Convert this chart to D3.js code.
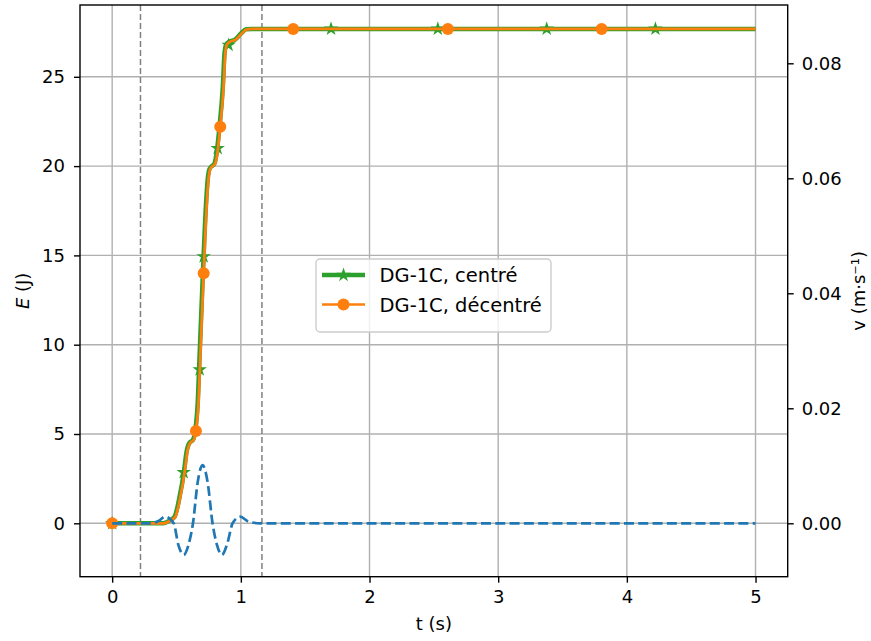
<!DOCTYPE html>
<html>
<head>
<meta charset="utf-8">
<script src="https://cdn.jsdelivr.net/npm/d3@7"></script>
<style>
  html, body { margin: 0; padding: 0; background: #fff; }
  svg { display: block; }
  text { font-family: "DejaVu Sans", sans-serif; }
</style>
</head>
<body>
<svg id="chart" width="871" height="641"></svg>
<script>
// ---------- data ----------
const xTicks = [0, 1, 2, 3, 4, 5];
const yLeftTicks = [0, 5, 10, 15, 20, 25];
const yRightTicks = [0.00, 0.02, 0.04, 0.06, 0.08];

// DG-1C, centré (green)
const centreT = [0, 0.394, 0.446, 0.485, 0.519, 0.563, 0.576, 0.601, 0.627, 0.645, 0.666, 0.679, 0.705, 0.731, 0.743, 0.757, 0.770, 0.795, 0.813, 0.834, 0.860, 0.873, 0.886, 0.912, 0.951, 1.003, 1.041, 1.084, 5];
const centreE = [0, 0, 0.15, 0.37, 1.3, 3.17, 3.92, 4.51, 4.66, 5.17, 6.9, 9.33, 14.0, 18.1, 19.3, 19.85, 19.97, 20.15, 20.8, 22.2, 24.45, 26.3, 26.8, 26.97, 27.06, 27.44, 27.66, 27.68, 27.68];
const centreMarkT = [0, 0.556, 0.680, 0.711, 0.820, 0.905, 1.701, 2.531, 3.377, 4.222];
const centreMarkE = [0, 2.85, 8.6, 14.93, 21.0, 26.78, 27.68, 27.68, 27.68, 27.68];

// DG-1C, décentré (orange)
const decentreT = [0, 0.40, 0.452, 0.491, 0.525, 0.569, 0.582, 0.607, 0.633, 0.651, 0.672, 0.685, 0.711, 0.737, 0.749, 0.763, 0.776, 0.801, 0.819, 0.840, 0.866, 0.879, 0.892, 0.918, 0.957, 1.009, 1.047, 1.09, 5];
const decentreE = [0, 0, 0.15, 0.37, 1.3, 3.17, 3.92, 4.51, 4.66, 5.17, 6.9, 9.33, 14.0, 18.1, 19.3, 19.85, 19.97, 20.15, 20.8, 22.2, 24.45, 26.3, 26.8, 26.97, 27.06, 27.44, 27.66, 27.68, 27.68];
const decentreMarkT = [0, 0.651, 0.711, 0.840, 1.407, 2.609, 3.804];
const decentreMarkE = [0, 5.17, 14.0, 22.2, 27.68, 27.68, 27.68];

// velocity (blue dashed, right axis)
const velT = [0, 0.30, 0.36, 0.413, 0.478, 0.515, 0.556, 0.595, 0.628, 0.665, 0.703, 0.742, 0.780, 0.815, 0.853, 0.895, 0.936, 0.995, 1.06, 1.15, 5];
const velV = [0, 0, 0.0004, 0.00115, 0, -0.0038, -0.0055, -0.0036, 0, 0.0072, 0.0101, 0.0071, 0, -0.0038, -0.0055, -0.0035, 0, 0.00115, 0.0003, 0, 0];

// vertical reference lines
const vLinesT = [0.22, 1.164];

const legendLabels = ["DG-1C, centré", "DG-1C, décentré"];

// ---------- layout ----------
const L = 80, R = 787.7, T = 5, B = 576.7;
const FS = 18, FSL = 19.5;
const cGreen = "#2ca02c", cOrange = "#ff7f0e", cBlue = "#1f77b4";

const svg = d3.select("#chart");
const x = d3.scaleLinear().domain([-0.25, 5.25]).range([L, R]);
const yL = d3.scaleLinear().domain([-2.99, 29.02]).range([B, T]);
const yR = d3.scaleLinear().domain([-0.00929, 0.09014]).range([B, T]);

svg.append("defs").append("clipPath").attr("id", "clip")
  .append("rect").attr("x", L).attr("y", T).attr("width", R - L).attr("height", B - T);

// grid
const grid = svg.append("g");
grid.selectAll("line.gx").data(xTicks).join("line")
  .attr("class", "gx")
  .attr("x1", d => x(d)).attr("x2", d => x(d)).attr("y1", T).attr("y2", B)
  .attr("stroke", "#b0b0b0").attr("stroke-width", 1.4);
grid.selectAll("line.gy").data(yLeftTicks).join("line")
  .attr("class", "gy")
  .attr("x1", L).attr("x2", R).attr("y1", d => yL(d)).attr("y2", d => yL(d))
  .attr("stroke", "#b0b0b0").attr("stroke-width", 1.4);

const plot = svg.append("g").attr("clip-path", "url(#clip)");

// vertical dashed lines
plot.selectAll("line.vl").data(vLinesT).join("line")
  .attr("class", "vl")
  .attr("x1", d => x(d)).attr("x2", d => x(d)).attr("y1", T).attr("y2", B)
  .attr("stroke", "#808080").attr("stroke-width", 1.5).attr("stroke-dasharray", "6,3");

const lineL = d3.line().x(d => x(d[0])).y(d => yL(d[1])).curve(d3.curveMonotoneX);
const lineR = d3.line().x(d => x(d[0])).y(d => yR(d[1])).curve(d3.curveMonotoneX);

const star = d3.symbol().type(d3.symbolStar).size(30);
const circ = d3.symbol().type(d3.symbolCircle).size(Math.PI * 36);

// green
plot.append("path").datum(d3.zip(centreT, centreE)).attr("d", lineL)
  .attr("fill", "none").attr("stroke", cGreen).attr("stroke-width", 4.5);
plot.selectAll("path.gs").data(d3.zip(centreMarkT, centreMarkE)).join("path")
  .attr("class", "gs")
  .attr("transform", d => `translate(${x(d[0])},${yL(d[1])})`)
  .attr("d", star).attr("fill", cGreen).attr("stroke", cGreen).attr("stroke-width", 1.5);

// orange
plot.append("path").datum(d3.zip(decentreT, decentreE)).attr("d", lineL)
  .attr("fill", "none").attr("stroke", cOrange).attr("stroke-width", 2.7);
plot.selectAll("path.oc").data(d3.zip(decentreMarkT, decentreMarkE)).join("path")
  .attr("class", "oc")
  .attr("transform", d => `translate(${x(d[0])},${yL(d[1])})`)
  .attr("d", circ).attr("fill", cOrange);

// blue velocity
plot.append("path").datum(d3.zip(velT, velV)).attr("d", lineR)
  .attr("fill", "none").attr("stroke", cBlue).attr("stroke-width", 2.7)
  .attr("stroke-dasharray", "10,4.3");

// axes
function styleAxis(g) {
  g.selectAll("text").attr("font-size", FS).attr("font-family", "DejaVu Sans").attr("fill", "#000");
  g.selectAll(".tick line").attr("stroke", "#000").attr("stroke-width", 1.4);
  g.select(".domain").remove();
}
svg.append("g").attr("transform", `translate(0,${B})`)
  .call(d3.axisBottom(x).tickValues(xTicks).tickFormat(d3.format("d")).tickSize(6).tickPadding(8))
  .call(styleAxis);
svg.append("g").attr("transform", `translate(${L},0)`)
  .call(d3.axisLeft(yL).tickValues(yLeftTicks).tickFormat(d3.format("d")).tickSize(6).tickPadding(9))
  .call(styleAxis);
svg.append("g").attr("transform", `translate(${R},0)`)
  .call(d3.axisRight(yR).tickValues(yRightTicks).tickFormat(d3.format(".2f")).tickSize(6).tickPadding(8))
  .call(styleAxis);

// spines
svg.append("rect").attr("x", L).attr("y", T).attr("width", R - L).attr("height", B - T)
  .attr("fill", "none").attr("stroke", "#000").attr("stroke-width", 1.4);

// axis labels
svg.append("text").attr("x", (L + R) / 2).attr("y", 630).attr("text-anchor", "middle")
  .attr("font-size", FS).text("t (s)");
const eLab = svg.append("text").attr("transform", `translate(29,${(T + B) / 2}) rotate(-90)`)
  .attr("text-anchor", "middle").attr("font-size", FS);
eLab.append("tspan").attr("font-style", "italic").text("E");
eLab.append("tspan").text(" (J)");
svg.append("text").attr("transform", `translate(865,${(T + B) / 2}) rotate(-90)`)
  .attr("text-anchor", "middle").attr("font-size", FS).text("v (m·s⁻¹)");

// legend
const lg = svg.append("g");
lg.append("rect").attr("x", 316).attr("y", 259).attr("width", 235).attr("height", 73).attr("rx", 4)
  .attr("fill", "#fff").attr("fill-opacity", 0.8).attr("stroke", "#cccccc").attr("stroke-width", 1.4);
const legItems = [
  {label: legendLabels[0], color: cGreen, w: 4.5, sym: star, y: 275},
  {label: legendLabels[1], color: cOrange, w: 2.7, sym: circ, y: 304.5}
];
legItems.forEach(it => {
  lg.append("line").attr("x1", 322).attr("x2", 365).attr("y1", it.y).attr("y2", it.y)
    .attr("stroke", it.color).attr("stroke-width", it.w);
  lg.append("path").attr("transform", `translate(343.5,${it.y})`).attr("d", it.sym)
    .attr("fill", it.color).attr("stroke", it.sym === star ? it.color : "none").attr("stroke-width", 1.5);
  lg.append("text").attr("x", 379.5).attr("y", it.y + 7).attr("font-size", FSL).text(it.label);
});
</script>
</body>
</html>
